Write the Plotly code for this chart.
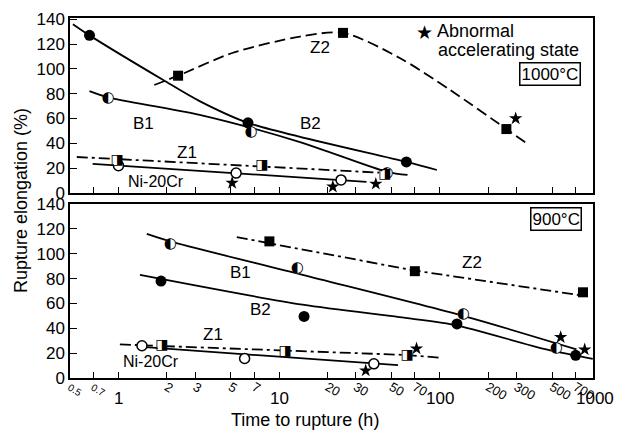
import math
import plotly.graph_objects as go

# ---------------- data ----------------
# 1000 C panel (top)
b2_t_x = [0.66, 6.4, 62]
b2_t_y = [127, 56.5, 25]
b2_t_fit_x = [0.52, 0.66, 1.9, 3.2, 6.4, 62, 96]
b2_t_fit_y = [136, 127, 91, 74, 56.5, 25, 18.5]

b1_t_x = [0.86, 6.7, 47]
b1_t_y = [76, 49, 16]
b1_t_fit_x = [0.66, 0.86, 3.2, 13.5, 47, 63]
b1_t_fit_y = [82, 77, 63, 41, 17, 14.5]

z2_t_x = [2.35, 25, 260]
z2_t_y = [94.5, 129, 51.5]
z2_t_fit_x = [1.67, 2.35, 5.17, 13.5, 25, 56, 116, 260, 348]
z2_t_fit_y = [87, 94.5, 113, 126, 129, 109, 83, 51.5, 40]

z1_t_x = [0.98, 7.8, 45.6]
z1_t_y = [26, 22, 14.5]
z1_t_fit_x = [0.55, 7.8, 42]
z1_t_fit_y = [29, 21.5, 16.4]

ni_t_x = [1.0, 5.4, 24.3]
ni_t_y = [22, 16, 10.5]
ni_t_fit_x = [0.69, 35]
ni_t_fit_y = [23.5, 9]

star_t_x = [5.1, 21.6, 40, 297]
star_t_y = [8, 5, 7.3, 60]

# 900 C panel (bottom)
b1_b_x = [2.1, 13, 140, 532]
b1_b_y = [108, 88.5, 51, 24]
b1_b_fit_x = [1.5, 2.1, 14, 140, 710]
b1_b_fit_y = [116, 110, 83, 50, 23]

b2_b_x = [1.84, 14.3, 128, 702]
b2_b_y = [78, 49.6, 43.5, 18.3]
b2_b_fit_x = [1.36, 14, 56, 121, 461, 897]
b2_b_fit_y = [83, 59, 49, 43, 23, 15.4]

z2_b_x = [8.7, 70, 780]
z2_b_y = [110, 86, 69]
z2_b_fit_x = [5.45, 70, 761]
z2_b_fit_y = [113.4, 86.5, 66.5]

z1_b_x = [1.86, 10.9, 62.7]
z1_b_y = [26.3, 21.5, 18.3]
z1_b_fit_x = [1.02, 62.7, 103]
z1_b_fit_y = [27, 18.5, 16.2]

ni_b_x = [1.4, 6.1, 38.9]
ni_b_y = [26, 15.7, 11.4]
ni_b_fit_x = [1.4, 15.6, 55]
ni_b_fit_y = [25, 15, 10.3]

star_b_x = [34.6, 71.7, 566, 799]
star_b_y = [6, 23.7, 32.8, 22.9]

x_tickvals = [0.5, 0.7, 1, 2, 3, 5, 7, 10, 20, 30, 50, 70, 100, 200, 300, 500, 700]
x_ticktext = ['<span style="font-size:10px">0.5</span>', '<span style="font-size:10px">0.7</span>', '',
              '2', '3', '5', '7', '', '20', '30', '50', '70', '', '200', '300', '500', '700']
decade_vals = [1, 10, 100, 1000]
decade_text = ['1', '10', '100', '1000']
y_tickvals = [0, 20, 40, 60, 80, 100, 120, 140]

X_LO, X_HI = math.log10(0.499), math.log10(900)

FONT = "Liberation Sans, Arial, sans-serif"
SYM = "DejaVu Sans"

fig = go.Figure()


def add_line(x, y, xa, ya, dash="solid", shape="spline"):
    fig.add_trace(go.Scatter(x=x, y=y, xaxis=xa, yaxis=ya, mode="lines",
                             line=dict(color="black", width=1.8, dash=dash, shape=shape, smoothing=0.8),
                             showlegend=False, hoverinfo="skip"))


def add_markers(x, y, xa, ya, symbol, size, fill="black", lw=0):
    fig.add_trace(go.Scatter(x=x, y=y, xaxis=xa, yaxis=ya, mode="markers",
                             marker=dict(symbol=symbol, size=size, color=fill,
                                         line=dict(color="black", width=lw)),
                             showlegend=False, hoverinfo="skip"))


def add_glyph(x, y, xa, ya, glyph, size):
    fig.add_trace(go.Scatter(x=x, y=y, xaxis=xa, yaxis=ya, mode="markers",
                             marker=dict(symbol="circle", size=size - 4, color="white"),
                             showlegend=False, hoverinfo="skip"))
    fig.add_trace(go.Scatter(x=x, y=y, xaxis=xa, yaxis=ya, mode="text",
                             text=[glyph] * len(x), textposition="middle center",
                             textfont=dict(family=SYM, size=size, color="black"),
                             showlegend=False, hoverinfo="skip"))


DASHDOT = "11px,4px,3px,4px"
LONGDASH = "11px,5px"

# top panel
add_line(b2_t_fit_x, b2_t_fit_y, "x", "y")
add_line(b1_t_fit_x, b1_t_fit_y, "x", "y")
add_line(z2_t_fit_x, z2_t_fit_y, "x", "y", dash=LONGDASH)
add_line(z1_t_fit_x, z1_t_fit_y, "x", "y", dash=DASHDOT, shape="linear")
add_line(ni_t_fit_x, ni_t_fit_y, "x", "y", shape="linear")
add_markers(b2_t_x, b2_t_y, "x", "y", "circle", 11)
add_markers(z2_t_x, z2_t_y, "x", "y", "square", 10)
add_markers(ni_t_x, ni_t_y, "x", "y", "circle", 10, fill="white", lw=1.5)
add_glyph(b1_t_x, b1_t_y, "x", "y", "\u25D0", 15)
add_glyph(z1_t_x, z1_t_y, "x", "y", "\u25E8", 14)
add_markers(star_t_x, star_t_y, "x", "y", "star", 10)

# bottom panel
add_line(b1_b_fit_x, b1_b_fit_y, "x2", "y2")
add_line(b2_b_fit_x, b2_b_fit_y, "x2", "y2")
add_line(z2_b_fit_x, z2_b_fit_y, "x2", "y2", dash=DASHDOT, shape="linear")
add_line(z1_b_fit_x, z1_b_fit_y, "x2", "y2", dash=DASHDOT, shape="linear")
add_line(ni_b_fit_x, ni_b_fit_y, "x2", "y2", shape="linear")
add_markers(b2_b_x, b2_b_y, "x2", "y2", "circle", 11)
add_markers(z2_b_x, z2_b_y, "x2", "y2", "square", 10)
add_markers(ni_b_x, ni_b_y, "x2", "y2", "circle", 10, fill="white", lw=1.5)
add_glyph(b1_b_x, b1_b_y, "x2", "y2", "\u25D0", 15)
add_glyph(z1_b_x, z1_b_y, "x2", "y2", "\u25E8", 14)
add_markers(star_b_x, star_b_y, "x2", "y2", "star", 10)

xcommon = dict(type="log", range=[X_LO, X_HI], showgrid=False, zeroline=False, automargin=False,
               showline=True, mirror=True, linecolor="black", linewidth=1.5,
               ticks="inside", ticklen=6, tickwidth=1.2, tickcolor="black",
               tickmode="array", tickvals=x_tickvals, ticktext=x_ticktext,
               tickfont=dict(family=FONT, size=13, color="black"))
ycommon = dict(showgrid=False, zeroline=False, showline=True, mirror=True, automargin=False,
               linecolor="black", linewidth=1.5, ticks="inside", ticklen=7,
               tickwidth=1.2, tickcolor="black", tickmode="array", tickvals=y_tickvals,
               tickfont=dict(family=FONT, size=17, color="black"))

fig.update_layout(
    width=618, height=434,
    margin=dict(l=70, r=25, t=18, b=56),
    paper_bgcolor="white", plot_bgcolor="white",
    showlegend=False,
    xaxis=dict(xcommon, anchor="y", showticklabels=False),
    xaxis2=dict(xcommon, anchor="y2", ticklabelstandoff=-5),
    yaxis=dict(ycommon, domain=[0.514, 1.0], range=[0, 141], anchor="x"),
    yaxis2=dict(ycommon, domain=[0.0, 0.483], range=[0, 140], anchor="x2"),
)

ann = []


def lab(text, x, y, xa, ya, size=17):
    ann.append(dict(text=text, x=math.log10(x), y=y, xref=xa, yref=ya, showarrow=False,
                    font=dict(family=FONT, size=size, color="black"),
                    xanchor="center", yanchor="middle"))


lab("Z2", 17.9, 117, "x", "y")
lab("B2", 15.6, 56, "x", "y")
lab("B1", 1.43, 56, "x", "y")
lab("Z1", 2.67, 33, "x", "y")
lab("Ni-20Cr", 1.7, 8.9, "x", "y", size=16)

lab("B1", 5.73, 85, "x2", "y2")
lab("B2", 7.62, 55, "x2", "y2")
lab("Z2", 158, 93, "x2", "y2")
lab("Z1", 3.89, 35, "x2", "y2")
lab("Ni-20Cr", 1.6, 13.3, "x2", "y2", size=16)

# decade labels on the time axis
for v, t in zip(decade_vals, decade_text):
    xf = (math.log10(v) - X_LO) / (X_HI - X_LO)
    anchor = "center"
    if v == 1000:
        xf = (616 - 70) / 523.0
        anchor = "right"
    ann.append(dict(text=t, x=xf, y=-0.058,
                    xref="paper", yref="paper", showarrow=False,
                    font=dict(family=FONT, size=17, color="black"),
                    xanchor=anchor, yanchor="middle"))

# axis titles
ann.append(dict(text="Time to rupture (h)", x=0.449, y=-0.117, xref="paper", yref="paper",
                showarrow=False, font=dict(family=FONT, size=18, color="black"),
                xanchor="center", yanchor="middle"))
ann.append(dict(text="Rupture elongation (%)", x=-0.094, y=0.494, xref="paper", yref="paper",
                textangle=-90, showarrow=False, font=dict(family=FONT, size=18, color="black"),
                xanchor="center", yanchor="middle"))

# legend note
ann.append(dict(text="\u2605", x=0.677, y=0.961, xref="paper", yref="paper", showarrow=False,
                font=dict(family=SYM, size=19, color="black"), xanchor="center", yanchor="middle"))
ann.append(dict(text="Abnormal", x=0.697, y=0.9625, xref="paper", yref="paper", showarrow=False,
                font=dict(family=FONT, size=18, color="black"), xanchor="left", yanchor="middle"))
ann.append(dict(text="accelerating state", x=0.700, y=0.9125, xref="paper", yref="paper",
                showarrow=False, font=dict(family=FONT, size=18, color="black"),
                xanchor="left", yanchor="middle"))

# temperature boxes
ann.append(dict(text="1000\u00b0C", x=0.918, y=0.844, xref="paper", yref="paper", showarrow=False,
                font=dict(family=FONT, size=17, color="black"), xanchor="center", yanchor="middle",
                bordercolor="black", borderwidth=1.5, borderpad=1, bgcolor="white"))
ann.append(dict(text="900\u00b0C", x=0.929, y=0.442, xref="paper", yref="paper", showarrow=False,
                font=dict(family=FONT, size=17, color="black"), xanchor="center", yanchor="middle",
                bordercolor="black", borderwidth=1.5, borderpad=1, bgcolor="white"))

fig.update_layout(annotations=ann)
fig.write_html("out.html", config={"displayModeBar": False},
               post_script="document.body.style.margin='0px';")
